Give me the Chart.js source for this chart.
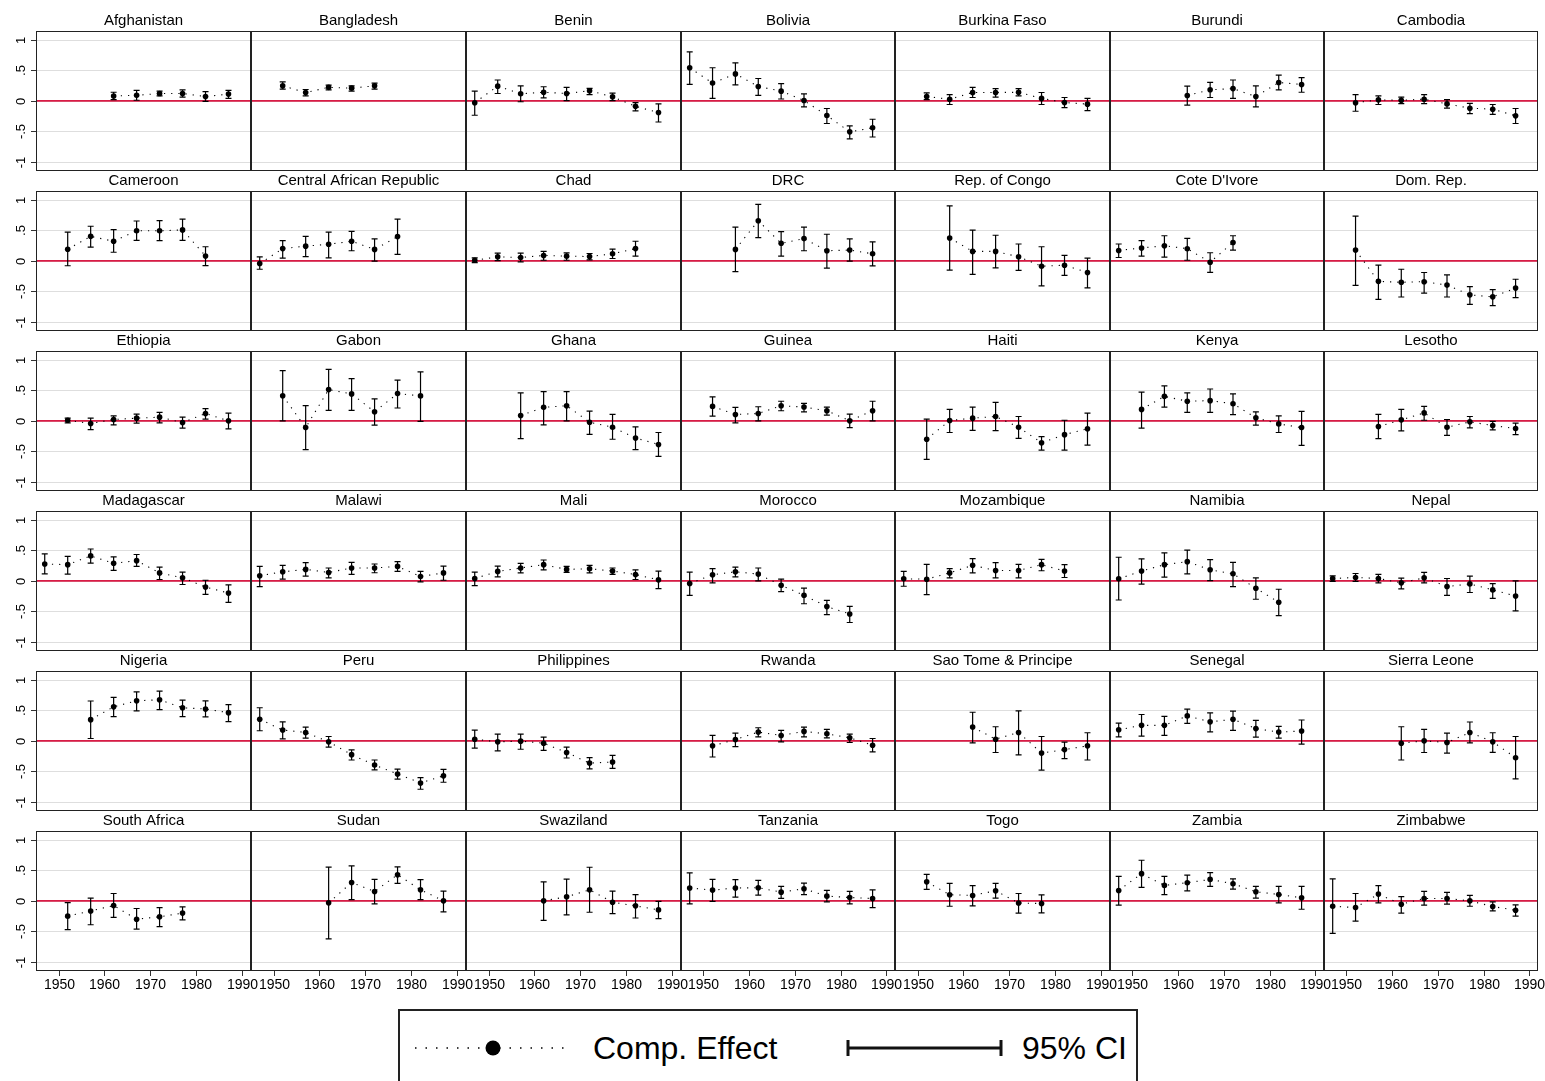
<!DOCTYPE html>
<html><head><meta charset="utf-8">
<script src="https://cdn.jsdelivr.net/npm/chart.js@4.4.1/dist/chart.umd.min.js"></script>
<style>
html,body{margin:0;padding:0;background:#fff;}
body{width:1545px;height:1081px;position:relative;overflow:hidden;font-family:'Liberation Sans',Arial,Helvetica,sans-serif;}
canvas.panel{position:absolute;}
#legend{position:absolute;left:398px;top:1009px;width:740px;height:100px;border:2px solid #222;box-sizing:border-box;}
#legend svg{position:absolute;left:0;top:0;}
#legend .lt{position:absolute;font-size:32px;line-height:32px;color:#000;white-space:nowrap;}
</style></head><body>
<div id="legend">
  <svg width="736" height="60">
    <line x1="15" y1="37" x2="167" y2="37" stroke="#000" stroke-width="1.5" stroke-dasharray="1.5 9"/>
    <circle cx="93" cy="37" r="7.5" fill="#000"/>
    <line x1="448" y1="37" x2="601" y2="37" stroke="#111" stroke-width="3"/>
    <line x1="448" y1="29" x2="448" y2="45" stroke="#111" stroke-width="3"/>
    <line x1="601" y1="29" x2="601" y2="45" stroke="#111" stroke-width="3"/>
  </svg>
  <span class="lt" style="left:193px;top:21px;">Comp. Effect</span>
  <span class="lt" style="left:622px;top:21px;">95% CI</span>
</div>
<script>
// ---------------- data ----------------
const years = [1947, 1952, 1957, 1962, 1967, 1972, 1977, 1982, 1987];
const xTickValues = [1950, 1960, 1970, 1980, 1990];
const xTickLabels = ['1950', '1960', '1970', '1980', '1990'];
const yTickValues = [-1, -0.5, 0, 0.5, 1];
const yTickLabels = ['-1', '-.5', '0', '.5', '1'];

const countries = [
  'Afghanistan','Bangladesh','Benin','Bolivia','Burkina Faso','Burundi','Cambodia',
  'Cameroon','Central African Republic','Chad','DRC','Rep. of Congo',"Cote D'Ivore",'Dom. Rep.',
  'Ethiopia','Gabon','Ghana','Guinea','Haiti','Kenya','Lesotho',
  'Madagascar','Malawi','Mali','Morocco','Mozambique','Namibia','Nepal',
  'Nigeria','Peru','Philippines','Rwanda','Sao Tome & Principe','Senegal','Sierra Leone',
  'South Africa','Sudan','Swaziland','Tanzania','Togo','Zambia','Zimbabwe'
];

// compositional effect (one row per country, one value per year above)
const estimates = [
  [null,null,null,0.08,0.09,0.12,0.12,0.07,0.11],
  [null,0.245,0.136,0.22,0.207,0.245,null,null,null],
  [-0.03,0.24,0.115,0.14,0.12,0.165,0.065,-0.09,-0.19],
  [0.54,0.29,0.44,0.234,0.158,0.005,-0.24,-0.506,-0.44],
  [null,0.07,0.027,0.136,0.136,0.14,0.04,-0.027,-0.054],
  [null,null,null,0.087,0.18,0.20,0.07,0.30,0.267],
  [null,-0.03,0.016,0.01,0.027,-0.05,-0.12,-0.136,-0.245],
  [null,0.19,0.40,0.32,0.49,0.49,0.505,0.08,null],
  [-0.044,0.20,0.24,0.27,0.32,0.187,0.396,null,null],
  [0.01,0.066,0.055,0.088,0.077,0.07,0.115,0.20,null],
  [null,null,0.187,0.654,0.286,0.363,0.165,0.176,0.115],
  [null,null,0.374,0.154,0.154,0.066,-0.088,-0.071,-0.19],
  [0.17,0.21,0.247,0.198,-0.022,0.30,null,null,null],
  [null,0.176,-0.335,-0.35,-0.34,-0.396,-0.555,-0.588,-0.445],
  [null,0.01,-0.044,0.022,0.044,0.06,-0.027,0.12,0.0],
  [null,0.41,-0.11,0.51,0.44,0.148,0.445,0.407,null],
  [null,null,0.088,0.22,0.247,-0.022,-0.104,-0.28,-0.385],
  [null,0.236,0.104,0.12,0.247,0.225,0.165,0.0,0.165],
  [null,-0.30,0.005,0.044,0.071,-0.104,-0.357,-0.225,-0.13],
  [null,0.187,0.40,0.32,0.33,0.28,0.05,-0.05,-0.11],
  [null,null,-0.093,0.016,0.13,-0.104,-0.016,-0.077,-0.126],
  [0.275,0.264,0.407,0.286,0.33,0.13,0.05,-0.1,-0.2],
  [0.082,0.148,0.187,0.137,0.21,0.21,0.236,0.071,0.13],
  [0.038,0.154,0.21,0.264,0.187,0.198,0.16,0.104,0.016],
  [-0.044,0.1,0.148,0.11,-0.071,-0.236,-0.42,-0.54,null],
  [0.033,0.027,0.13,0.253,0.17,0.17,0.264,0.16,null],
  [0.033,0.16,0.264,0.313,0.18,0.115,-0.12,-0.35,null],
  [0.038,0.055,0.038,-0.033,0.05,-0.093,-0.05,-0.148,-0.247],
  [null,null,0.346,0.555,0.654,0.67,0.54,0.52,0.46],
  [0.352,0.176,0.137,-0.016,-0.225,-0.396,-0.54,-0.687,-0.571],
  [0.027,-0.016,-0.005,-0.038,-0.19,-0.363,-0.346,null,null],
  [null,-0.082,0.022,0.143,0.088,0.154,0.115,0.05,-0.071],
  [null,null,null,0.225,0.027,0.137,-0.2,-0.143,-0.082],
  [0.18,0.253,0.253,0.407,0.31,0.352,0.2,0.143,0.16],
  [null,null,null,-0.038,0.0,-0.027,0.137,-0.016,-0.275],
  [null,-0.25,-0.165,-0.077,-0.30,-0.26,-0.20,null,null],
  [null,null,null,-0.033,0.30,0.153,0.427,0.18,0.0],
  [null,null,null,0.0,0.066,0.18,-0.022,-0.082,-0.148],
  [0.21,0.175,0.21,0.214,0.142,0.197,0.077,0.055,0.038],
  [null,0.31,0.10,0.088,0.164,-0.035,-0.044,null,null],
  [0.17,0.444,0.252,0.296,0.35,0.28,0.148,0.104,0.05],
  [-0.088,-0.11,0.11,-0.055,0.038,0.038,0.0,-0.093,-0.153]
];

// lower bound of 95% CI
const ciLow = [
  [null,null,null,0.02,0.01,0.08,0.06,-0.01,0.04],
  [null,0.19,0.08,0.18,0.16,0.19,null,null,null],
  [-0.235,0.12,-0.015,0.05,0.005,0.10,0.005,-0.165,-0.345],
  [0.27,0.04,0.26,0.09,0.03,-0.10,-0.37,-0.62,-0.59],
  [null,0.02,-0.06,0.055,0.06,0.08,-0.06,-0.11,-0.16],
  [null,null,null,-0.07,0.055,0.04,-0.10,0.18,0.14],
  [null,-0.17,-0.06,-0.044,-0.044,-0.12,-0.21,-0.22,-0.37],
  [null,-0.08,0.225,0.14,0.335,0.33,0.335,-0.077,null],
  [-0.137,0.044,0.07,0.05,0.165,-0.005,0.104,null,null],
  [-0.03,0.005,-0.016,0.01,0.01,0.016,0.038,0.077,null],
  [null,null,-0.176,0.38,0.077,0.165,-0.12,-0.005,-0.082],
  [null,null,-0.15,-0.22,-0.115,-0.154,-0.41,-0.236,-0.44],
  [0.055,0.077,0.06,0.01,-0.187,0.176,null,null,null],
  [null,-0.40,-0.63,-0.59,-0.527,-0.59,-0.71,-0.73,-0.60],
  [null,-0.033,-0.143,-0.066,-0.038,-0.033,-0.12,0.027,-0.13],
  [null,0.0,-0.47,0.17,0.17,-0.07,0.21,-0.01,null],
  [null,null,-0.29,-0.066,0.0,-0.22,-0.30,-0.47,-0.58],
  [null,0.077,-0.033,0.0,0.165,0.148,0.093,-0.11,0.0],
  [null,-0.63,-0.19,-0.154,-0.16,-0.286,-0.478,-0.478,-0.396],
  [null,-0.12,0.225,0.137,0.137,0.1,-0.07,-0.19,-0.40],
  [null,null,-0.29,-0.165,0.01,-0.236,-0.115,-0.148,-0.225],
  [0.115,0.11,0.29,0.17,0.236,0.022,-0.06,-0.22,-0.35],
  [-0.093,0.027,0.077,0.05,0.104,0.132,0.154,-0.016,0.01],
  [-0.077,0.066,0.13,0.18,0.137,0.13,0.104,0.022,-0.126],
  [-0.236,-0.033,0.066,0.0,-0.176,-0.374,-0.55,-0.68,null],
  [-0.088,-0.225,0.05,0.13,0.05,0.05,0.165,0.055,null],
  [-0.313,-0.055,0.06,0.115,0.005,-0.093,-0.30,-0.566,null],
  [-0.01,-0.01,-0.033,-0.13,-0.033,-0.236,-0.19,-0.286,-0.49],
  [null,null,0.038,0.396,0.49,0.51,0.396,0.39,0.313],
  [0.165,0.033,0.044,-0.104,-0.313,-0.473,-0.626,-0.79,-0.676],
  [-0.12,-0.165,-0.137,-0.154,-0.28,-0.456,-0.45,null,null],
  [null,-0.264,-0.093,0.066,-0.016,0.066,0.05,-0.027,-0.18],
  [null,null,null,-0.033,-0.19,-0.23,-0.478,-0.29,-0.313],
  [0.066,0.077,0.088,0.286,0.148,0.17,0.06,0.044,-0.055],
  [null,null,null,-0.313,-0.19,-0.2,-0.033,-0.187,-0.62],
  [null,-0.47,-0.39,-0.27,-0.46,-0.42,-0.31,null,null],
  [null,null,null,-0.62,0.02,-0.05,0.285,0.02,-0.18],
  [null,null,null,-0.32,-0.23,-0.186,-0.21,-0.28,-0.29],
  [-0.05,-0.01,0.06,0.093,0.04,0.10,-0.016,-0.05,-0.11],
  [null,0.186,-0.088,-0.082,0.044,-0.2,-0.197,null,null],
  [-0.07,0.22,0.10,0.164,0.236,0.19,0.044,-0.033,-0.137],
  [-0.53,-0.33,-0.033,-0.20,-0.07,-0.055,-0.088,-0.164,-0.25]
];

// upper bound of 95% CI
const ciHigh = [
  [null,null,null,0.14,0.17,0.16,0.18,0.15,0.17],
  [null,0.31,0.185,0.255,0.245,0.29,null,null,null],
  [0.16,0.34,0.245,0.23,0.22,0.205,0.125,-0.03,-0.05],
  [0.80,0.54,0.62,0.365,0.28,0.115,-0.125,-0.41,-0.30],
  [null,0.13,0.10,0.22,0.20,0.20,0.136,0.055,0.04],
  [null,null,null,0.24,0.30,0.34,0.245,0.42,0.38],
  [null,0.10,0.08,0.06,0.10,0.02,-0.04,-0.06,-0.125],
  [null,0.47,0.565,0.51,0.65,0.655,0.68,0.23,null],
  [0.066,0.33,0.40,0.47,0.48,0.357,0.68,null,null],
  [0.05,0.126,0.126,0.154,0.13,0.12,0.19,0.32,null],
  [null,null,0.55,0.923,0.478,0.55,0.434,0.357,0.31],
  [null,null,0.896,0.5,0.418,0.275,0.23,0.088,0.044],
  [0.275,0.33,0.41,0.368,0.132,0.41,null,null,null],
  [null,0.73,-0.07,-0.137,-0.19,-0.23,-0.42,-0.47,-0.30],
  [null,0.044,0.044,0.082,0.11,0.137,0.06,0.2,0.126],
  [null,0.82,0.25,0.84,0.69,0.357,0.665,0.80,null],
  [null,null,0.456,0.478,0.478,0.16,0.104,-0.1,-0.19],
  [null,0.39,0.22,0.23,0.32,0.286,0.225,0.11,0.32],
  [null,0.027,0.187,0.225,0.30,0.071,-0.258,0.01,0.126],
  [null,0.47,0.57,0.456,0.52,0.44,0.148,0.082,0.154],
  [null,null,0.104,0.187,0.236,0.022,0.071,-0.01,-0.038],
  [0.44,0.40,0.52,0.39,0.43,0.225,0.143,0.01,-0.066],
  [0.236,0.253,0.297,0.21,0.30,0.275,0.313,0.154,0.24],
  [0.143,0.24,0.286,0.34,0.236,0.253,0.21,0.18,0.16],
  [0.143,0.2,0.225,0.21,0.027,-0.12,-0.32,-0.417,null],
  [0.154,0.27,0.2,0.363,0.297,0.27,0.352,0.264,null],
  [0.385,0.357,0.456,0.50,0.346,0.30,0.05,-0.137,null],
  [0.082,0.12,0.104,0.044,0.137,0.038,0.077,-0.044,0.0],
  [null,null,0.65,0.71,0.80,0.813,0.665,0.654,0.59],
  [0.54,0.31,0.225,0.071,-0.148,-0.313,-0.46,-0.6,-0.467],
  [0.176,0.11,0.11,0.06,-0.104,-0.275,-0.236,null,null],
  [null,0.088,0.126,0.214,0.17,0.225,0.187,0.11,0.038],
  [null,null,null,0.467,0.23,0.49,0.071,-0.022,0.132],
  [0.29,0.43,0.40,0.517,0.456,0.484,0.335,0.236,0.34],
  [null,null,null,0.23,0.187,0.126,0.308,0.132,0.071],
  [null,-0.03,0.045,0.12,-0.125,-0.11,-0.10,null,null],
  [null,null,null,0.55,0.57,0.35,0.553,0.345,0.16],
  [null,null,null,0.31,0.356,0.548,0.16,0.10,-0.01],
  [0.455,0.35,0.345,0.334,0.236,0.29,0.17,0.153,0.18],
  [null,0.433,0.285,0.247,0.285,0.12,0.099,null,null],
  [0.40,0.663,0.40,0.42,0.46,0.36,0.236,0.236,0.236],
  [0.36,0.12,0.25,0.07,0.153,0.137,0.088,-0.016,-0.066]
];

// ---------------- layout ----------------
const NCOLS = 7, NROWS = 6;
const colEdges = [36, 251, 466, 681, 895, 1110, 1324, 1538];
const ROW_TOP = 11, ROW_H = 160;
const LEFT_AXIS = 36, BOTTOM_AXIS = 30, RIGHT_OVER = 22;
const FONT = "'Liberation Sans', Arial, Helvetica, sans-serif";
const X_MIN = 1945.1, X_MAX = 1991.9, Y_MIN = -1.145, Y_MAX = 1.14;

const panelPlugin = {
  id: 'panelDecor',
  beforeDatasetsDraw(chart, args, opts) {
    const ctx = chart.ctx, a = chart.chartArea;
    const xs = chart.scales.x, ys = chart.scales.y;
    ctx.save();
    // grid lines
    ctx.strokeStyle = '#dedede'; ctx.lineWidth = 1;
    yTickValues.forEach(v => {
      const py = Math.round(ys.getPixelForValue(v)) + 0.5;
      ctx.beginPath(); ctx.moveTo(a.left, py); ctx.lineTo(a.right, py); ctx.stroke();
    });
    // zero reference line
    ctx.strokeStyle = '#d81b45'; ctx.lineWidth = 1.6;
    const pz = ys.getPixelForValue(0);
    ctx.beginPath(); ctx.moveTo(a.left, pz); ctx.lineTo(a.right, pz); ctx.stroke();
    // confidence intervals
    const lo = ciLow[opts.idx], hi = ciHigh[opts.idx];
    ctx.strokeStyle = '#000'; ctx.lineWidth = 1.2;
    years.forEach((yr, i) => {
      if (lo[i] == null || hi[i] == null) return;
      const px = xs.getPixelForValue(yr);
      const pl = ys.getPixelForValue(lo[i]), ph = ys.getPixelForValue(hi[i]);
      ctx.beginPath();
      ctx.moveTo(px, pl); ctx.lineTo(px, ph);
      ctx.moveTo(px - 3, pl); ctx.lineTo(px + 3, pl);
      ctx.moveTo(px - 3, ph); ctx.lineTo(px + 3, ph);
      ctx.stroke();
    });
    ctx.restore();
  },
  afterDraw(chart, args, opts) {
    const ctx = chart.ctx, a = chart.chartArea;
    const xs = chart.scales.x, ys = chart.scales.y;
    ctx.save();
    ctx.strokeStyle = '#222'; ctx.lineWidth = 1;
    ctx.strokeRect(a.left + 0.5, a.top + 0.5, a.right - a.left - 1, a.bottom - a.top - 1);
    ctx.fillStyle = '#000';
    if (opts.col === 0) {
      ctx.strokeStyle = '#333';
      ctx.font = '13px ' + FONT;
      ctx.textAlign = 'center'; ctx.textBaseline = 'alphabetic';
      yTickValues.forEach((v, k) => {
        const py = Math.round(ys.getPixelForValue(v)) + 0.5;
        ctx.beginPath(); ctx.moveTo(a.left - 5, py); ctx.lineTo(a.left, py); ctx.stroke();
        ctx.save();
        ctx.translate(a.left - 11, py);
        ctx.rotate(-Math.PI / 2);
        ctx.fillText(yTickLabels[k], 0, 0);
        ctx.restore();
      });
    }
    if (opts.row === NROWS - 1) {
      ctx.strokeStyle = '#333';
      ctx.font = '14px ' + FONT;
      ctx.textAlign = 'center'; ctx.textBaseline = 'top';
      xTickValues.forEach((v, k) => {
        const px = Math.round(xs.getPixelForValue(v)) + 0.5;
        ctx.beginPath(); ctx.moveTo(px, a.bottom); ctx.lineTo(px, a.bottom + 5); ctx.stroke();
        ctx.fillText(xTickLabels[k], px, a.bottom + 7);
      });
    }
    ctx.restore();
  }
};

countries.forEach((name, idx) => {
  const row = Math.floor(idx / NCOLS), col = idx % NCOLS;
  const padL = col === 0 ? LEFT_AXIS : 0;
  const padB = row === NROWS - 1 ? BOTTOM_AXIS : 0;
  const padR = row === NROWS - 1 ? RIGHT_OVER : 0;
  const w = colEdges[col + 1] - colEdges[col] + padL + padR;
  const h = ROW_H + padB;
  const cv = document.createElement('canvas');
  cv.className = 'panel';
  cv.width = w; cv.height = h;
  cv.style.width = w + 'px'; cv.style.height = h + 'px';
  cv.style.left = (colEdges[col] - padL) + 'px';
  cv.style.top = (ROW_TOP + row * ROW_H) + 'px';
  document.body.appendChild(cv);

  const pts = [];
  years.forEach((yr, i) => { if (estimates[idx][i] != null) pts.push({ x: yr, y: estimates[idx][i] }); });

  new Chart(cv, {
    type: 'line',
    data: {
      datasets: [{
        data: pts,
        borderColor: '#000', borderWidth: 1.1, borderDash: [1.2, 6],
        pointRadius: 2.8, pointHoverRadius: 2.8,
        pointBackgroundColor: '#000', pointBorderWidth: 0,
        tension: 0, fill: false
      }]
    },
    options: {
      responsive: false, animation: false, devicePixelRatio: 1,
      events: [],
      layout: { autoPadding: false, padding: { left: padL, right: padR, top: 0, bottom: padB } },
      scales: {
        x: { type: 'linear', display: false, min: X_MIN, max: X_MAX },
        y: { type: 'linear', display: false, min: Y_MIN, max: Y_MAX }
      },
      plugins: {
        legend: { display: false },
        tooltip: { enabled: false },
        title: {
          display: true, text: name, color: '#000',
          font: { size: 15, family: FONT, weight: 'normal' },
          padding: { top: 1, bottom: 1 }
        },
        panelDecor: { idx: idx, row: row, col: col }
      }
    },
    plugins: [panelPlugin]
  });
});
</script>
</body></html>
